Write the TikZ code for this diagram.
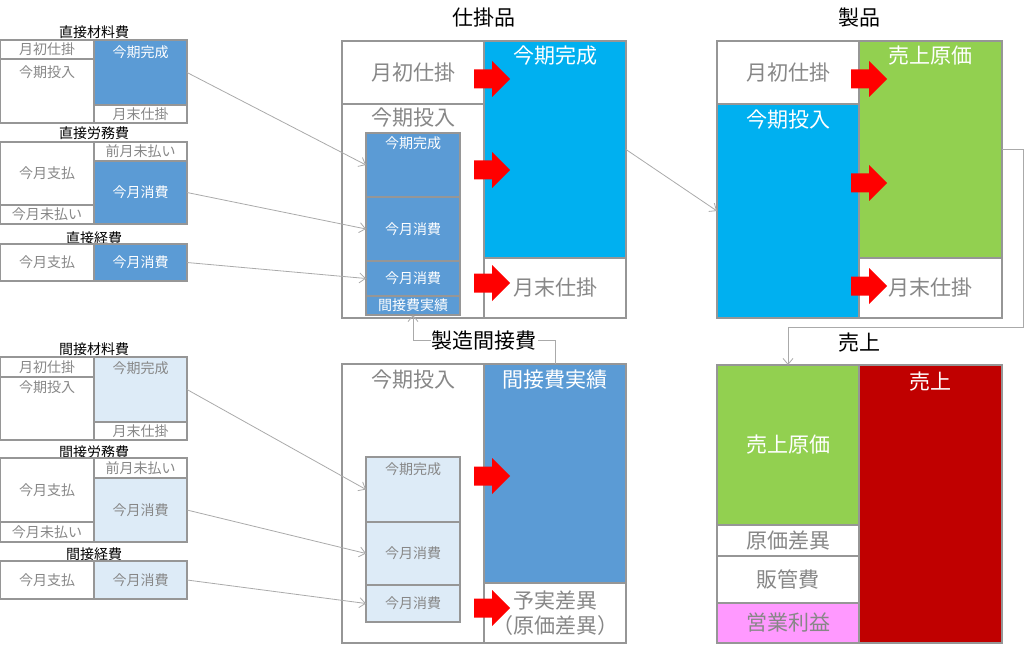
\documentclass[tikz,border=0pt]{standalone}
\usepackage{fontspec}
\setmainfont{Noto Sans CJK JP}
\usetikzlibrary{arrows.meta}
\definecolor{bordergray}{RGB}{150,150,150}
\definecolor{txtgray}{RGB}{135,135,135}
\definecolor{conngray}{RGB}{170,170,170}
\definecolor{cblue}{RGB}{91,155,213}
\definecolor{clight}{RGB}{221,235,247}
\definecolor{ccyan}{RGB}{0,176,240}
\definecolor{cgreen}{RGB}{146,208,80}
\definecolor{cdred}{RGB}{192,0,0}
\definecolor{cpink}{RGB}{255,153,255}
\definecolor{arrred}{RGB}{255,0,0}
\tikzset{
  cellbase/.style={rectangle, draw=bordergray, line width=1.2pt, inner sep=0pt, outer sep=0pt},
  wcell/.style={fill=white, text=txtgray},
  bcell/.style={fill=cblue, text=white},
  lcell/.style={fill=clight, text=txtgray},
  ccell/.style={fill=ccyan, text=white},
  gcell/.style={fill=cgreen, text=white},
  rcell/.style={fill=cdred, text=white},
  pcell/.style={fill=cpink, text=txtgray},
  sm/.style={font=\fontsize{14}{16}\selectfont},
  bg/.style={font=\fontsize{21}{25}\selectfont},
  ttl/.style={font=\fontsize{14}{16}\selectfont, text=black, inner sep=0pt},
  bttl/.style={font=\fontsize{21}{25}\selectfont, text=black, inner sep=1pt},
  conn/.style={draw=conngray, line width=0.8pt, -{Straight Barb[length=6pt,width=10pt]}},
}
\newcommand\cell[7]{%
  \node[cellbase,#6,anchor=north west,minimum width={(#4-#2)*1pt},minimum height={(#5-#3)*1pt}] (#1) at (#2,#3) {#7};}
\newcommand\rarrow[2]{%
  \fill[arrred] (#1,#2-9.5) -- (#1+18,#2-9.5) -- (#1+18,#2-18) -- (#1+36,#2) -- (#1+18,#2+18) -- (#1+18,#2+9.5) -- (#1,#2+9.5) -- cycle;}
\begin{document}
\begin{tikzpicture}[x=1pt,y=-1pt]
\useasboundingbox (0,0) rectangle (1024,652);

% ---------- left groups ----------
% 直接材料費
\node[ttl] (ta) at (94,32) {直接材料費};
\cell{a1}{0}{40}{94}{59}{wcell,sm}{月初仕掛}
\cell{a2}{0}{59}{94}{123}{wcell,sm}{}
\node[sm,text=txtgray] (a2t) at ([yshift=-13pt]a2.north) {今期投入};
\cell{a3}{94}{40}{187}{105}{bcell,sm}{}
\node[sm,text=white] (a3t) at ([yshift=-12pt]a3.north) {今期完成};
\cell{a4}{94}{105}{187}{123}{wcell,sm}{月末仕掛}

% 直接労務費
\node[ttl] (tb) at (94,133) {直接労務費};
\cell{b1}{0}{142}{94}{205}{wcell,sm}{今月支払}
\cell{b2}{0}{205}{94}{224}{wcell,sm}{今月未払い}
\cell{b3}{94}{142}{187}{161}{wcell,sm}{前月未払い}
\cell{b4}{94}{161}{187}{224}{bcell,sm}{今月消費}

% 直接経費
\node[ttl] (tc) at (94,238) {直接経費};
\cell{c1}{0}{244}{94}{281}{wcell,sm}{今月支払}
\cell{c2}{94}{244}{187}{281}{bcell,sm}{今月消費}

% 間接材料費
\node[ttl] (td) at (94,349) {間接材料費};
\cell{d1}{0}{357}{94}{377}{wcell,sm}{月初仕掛}
\cell{d2}{0}{377}{94}{440}{wcell,sm}{}
\node[sm,text=txtgray] (d2t) at ([yshift=-10pt]d2.north) {今期投入};
\cell{d3}{94}{357}{187}{422}{lcell,sm}{}
\node[sm,text=txtgray] (d3t) at ([yshift=-11pt]d3.north) {今期完成};
\cell{d4}{94}{422}{187}{440}{wcell,sm}{月末仕掛}

% 間接労務費
\node[ttl] (te) at (94,452) {間接労務費};
\cell{e1}{0}{458}{94}{522}{wcell,sm}{今月支払}
\cell{e2}{0}{522}{94}{542}{wcell,sm}{今月未払い}
\cell{e3}{94}{458}{187}{478}{wcell,sm}{前月未払い}
\cell{e4}{94}{478}{187}{542}{lcell,sm}{今月消費}

% 間接経費
\node[ttl] (tf) at (94,554) {間接経費};
\cell{f1}{0}{561}{94}{599}{wcell,sm}{今月支払}
\cell{f2}{94}{561}{187}{599}{lcell,sm}{今月消費}

% ---------- 仕掛品 ----------
\node[bttl] (tm) at (484,18) {仕掛品};
\cell{m1}{342}{41}{484}{104}{wcell,bg}{月初仕掛}
\cell{m2}{342}{104}{484}{318}{wcell,bg}{}
\node[bg,text=txtgray] (m2t) at ([yshift=-14pt]m2.north) {今期投入};
\cell{m3}{484}{41}{626}{258}{ccell,bg}{}
\node[bg,text=white] (m3t) at ([yshift=-15pt]m3.north) {今期完成};
\cell{m4}{484}{258}{626}{318}{wcell,bg}{月末仕掛}
\cell{s1}{366}{133}{460}{197}{bcell,sm}{}
\node[sm,text=white] (s1t) at ([yshift=-10pt]s1.north) {今期完成};
\cell{s2}{366}{197}{460}{261}{bcell,sm}{今月消費}
\cell{s3}{366}{261}{460}{296}{bcell,sm}{今月消費}
\cell{s4}{366}{296}{460}{315}{bcell,sm}{間接費実績}

% ---------- 製造間接費 ----------
\cell{n1}{342}{364}{484}{643}{wcell,bg}{}
\node[bg,text=txtgray] (n1t) at ([yshift=-16pt]n1.north) {今期投入};
\cell{n2}{484}{364}{626}{583}{bcell,bg}{}
\node[bg,text=white] (n2t) at ([yshift=-16pt]n2.north) {間接費実績};
\cell{n3}{484}{583}{626}{643}{wcell,bg,align=center}{予実差異\\（原価差異）}
\cell{t1}{366}{457}{460}{522}{lcell,sm}{}
\node[sm,text=txtgray] (t1t) at ([yshift=-12pt]t1.north) {今期完成};
\cell{t2}{366}{522}{460}{585}{lcell,sm}{今月消費}
\cell{t3}{366}{585}{460}{622}{lcell,sm}{今月消費}

% ---------- 製品 ----------
\node[bttl] (tp) at (859,18) {製品};
\cell{p1}{717}{41}{859}{104}{wcell,bg}{月初仕掛}
\cell{p2}{717}{104}{859}{318}{ccell,bg}{}
\node[bg,text=white] (p2t) at ([yshift=-16pt]p2.north) {今期投入};
\cell{p3}{859}{41}{1002}{258}{gcell,bg}{}
\node[bg,text=white] (p3t) at ([yshift=-15pt]p3.north) {売上原価};
\cell{p4}{859}{258}{1002}{318}{wcell,bg}{月末仕掛}

% ---------- 売上 ----------
\node[bttl] (tq) at (859,343) {売上};
\cell{q1}{717}{365}{859}{525}{gcell,bg}{売上原価}
\cell{q2}{717}{525}{859}{556}{wcell,bg}{原価差異}
\cell{q3}{717}{556}{859}{603}{wcell,bg}{販管費}
\cell{q4}{717}{603}{859}{643}{pcell,bg}{営業利益}
\cell{q5}{859}{365}{1002}{643}{rcell,bg}{}
\node[bg,text=white] (q5t) at ([yshift=-17pt]q5.north) {売上};

% ---------- red arrows ----------
\rarrow{474}{79}
\rarrow{474}{170}
\rarrow{474}{283}
\rarrow{474}{476}
\rarrow{474}{608}
\rarrow{851}{79}
\rarrow{851}{183}
\rarrow{851}{286}

% ---------- connectors ----------
\draw[conn] (a3.east) -- (s1.west);
\draw[conn] (b4.east) -- (s2.west);
\draw[conn] (c2.east) -- (s3.west);
\draw[conn] (d3.east) -- (t1.west);
\draw[conn] (e4.east) -- (t2.west);
\draw[conn] (f2.east) -- (t3.west);
\draw[conn] (m3.east) -- (p2.west);
\coordinate (r1) at (1023,327);
\draw[conn] (p3.east) -| (r1) -| (q1.north);
\coordinate (r2) at (413,340);
\draw[conn] (n2.north) |- (r2) -- (s4.south);
\node[bttl,fill=white] (tn) at (484,341) {製造間接費};
\end{tikzpicture}
\end{document}
